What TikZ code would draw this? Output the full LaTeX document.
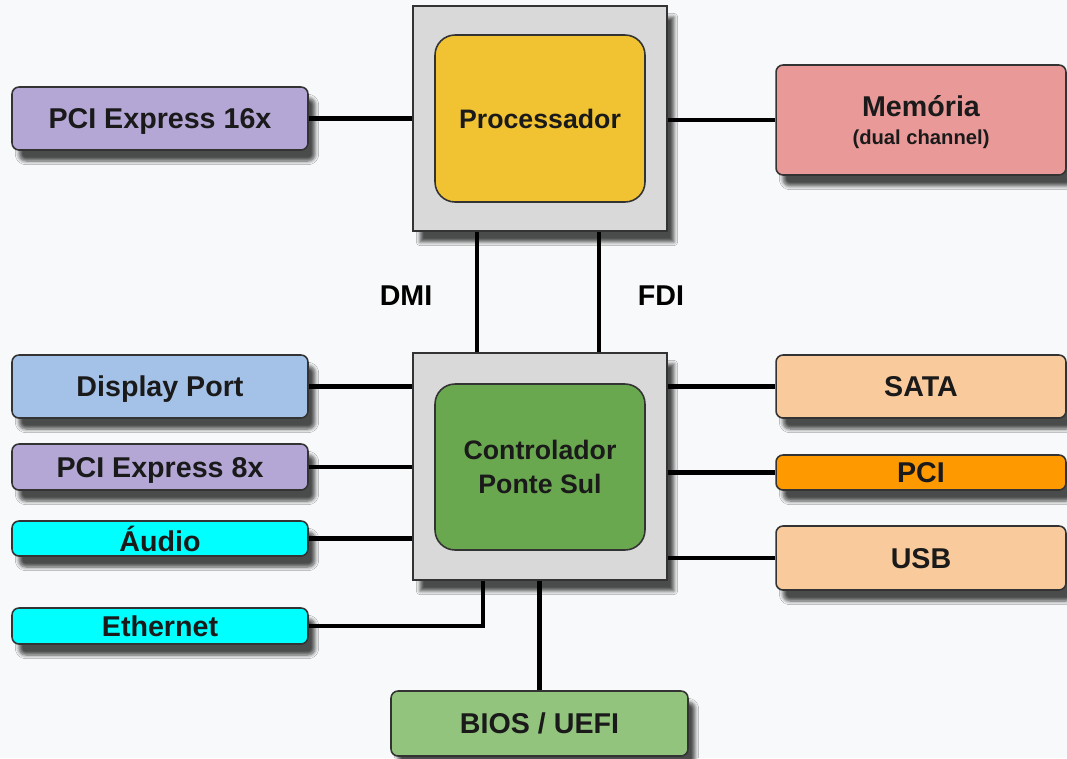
\documentclass[tikz,border=0pt]{standalone}
\usepackage{fontspec}
\setmainfont{Liberation Sans}
\usepackage{tikz}
\usetikzlibrary{shadows.blur}
\definecolor{bgcolor}{HTML}{F8F9FA}
\definecolor{edgecolor}{HTML}{333333}
\definecolor{chipgray}{HTML}{D9D9D9}
\definecolor{cpucolor}{HTML}{F1C232}
\definecolor{pchcolor}{HTML}{6AA84F}
\definecolor{pciecolor}{HTML}{B4A7D6}
\definecolor{memcolor}{HTML}{EA9999}
\definecolor{dpcolor}{HTML}{A4C2E8}
\definecolor{cyancolor}{HTML}{00FFFF}
\definecolor{peachcolor}{HTML}{F9CB9C}
\definecolor{pcicolor}{HTML}{FF9900}
\definecolor{bioscolor}{HTML}{93C47D}
\definecolor{textcolor}{HTML}{1A1A1A}

\begin{document}
\begin{tikzpicture}[x=0.02cm,y=-0.02cm,semithick]
  \tikzstyle{box}=[draw=edgecolor,line width=0.9pt,rounded corners=0.14cm,inner sep=0pt,
                   align=center,text=textcolor,text depth=0pt,
                   font=\bfseries\fontsize{16.3}{19}\selectfont,
                   blur shadow={shadow xshift=0.14cm,shadow yshift=-0.22cm,
                                shadow blur steps=6,shadow opacity=70}]
  \tikzstyle{chip}=[box,rounded corners=0pt,fill=chipgray,line width=1.1pt]
  \tikzstyle{core}=[draw=edgecolor,line width=0.9pt,rounded corners=0.4cm,inner sep=0pt,
                    align=center,text=textcolor,font=\bfseries\fontsize{15.2}{19}\selectfont]
  \tikzstyle{bus}=[line width=2.3pt,black]
  \tikzstyle{buslabel}=[text=black,font=\bfseries\fontsize{16.3}{19}\selectfont]

  \fill[bgcolor] (0,0) rectangle (1067,758);
  \useasboundingbox (0,0) rectangle (1067,758);

  % chips
  \node[chip, minimum width=5.08cm, minimum height=4.5cm]  (CPUBOX) at (540,118.5) {};
  \node[core, fill=cpucolor, minimum width=4.2cm, minimum height=3.34cm] (CPU) at (540,118.5) {Processador};
  \node[chip, minimum width=5.08cm, minimum height=4.54cm] (PCHBOX) at (540,466.5) {};
  \node[core, fill=pchcolor, minimum width=4.2cm, minimum height=3.32cm] (PCH) at (540,467) {Controlador\\Ponte Sul};

  % left side
  \node[box, fill=pciecolor, minimum width=5.92cm, minimum height=1.26cm] (PCIEX16) at (160,118.5) {PCI Express 16x};
  \node[box, fill=dpcolor,   minimum width=5.92cm, minimum height=1.26cm] (DP)      at (160,386.5) {Display Port};
  \node[box, fill=pciecolor, minimum width=5.92cm, minimum height=0.92cm] (PCIEX8)  at (160,467)   {PCI Express 8x};
  \node[box, fill=cyancolor, minimum width=5.92cm, minimum height=0.7cm]  (AUDIO)   at (160,538.5) {Áudio};
  \node[box, fill=cyancolor, minimum width=5.92cm, minimum height=0.72cm] (ETH)     at (160,626)   {Ethernet};

  % right side
  \node[box, fill=memcolor,   minimum width=5.8cm, minimum height=2.2cm]  (MEM)  at (921,120)
       {Memória\\[-3pt]{\fontsize{11.5}{13}\selectfont (dual channel)}};
  \node[box, fill=peachcolor, minimum width=5.8cm, minimum height=1.26cm] (SATA) at (921,386.5) {SATA};
  \node[box, fill=pcicolor,   minimum width=5.8cm, minimum height=0.7cm]  (PCI)  at (921,472.5) {PCI};
  \node[box, fill=peachcolor, minimum width=5.8cm, minimum height=1.28cm] (USB)  at (921,558)   {USB};

  % bottom
  \node[box, fill=bioscolor, minimum width=5.94cm, minimum height=1.3cm] (BIOS) at (539.5,723.5) {BIOS / UEFI};

  % bus labels
  \node[buslabel] (DMI) at (406,296) {DMI};
  \node[buslabel] (FDI) at (661,296) {FDI};

  % buses
  \draw[bus] (PCIEX16.east) -- (PCIEX16.east -| CPUBOX.west);
  \draw[bus] (MEM.west) -- (MEM.west -| CPUBOX.east);
  \draw[bus] ([xshift=-1.26cm]CPUBOX.south) -- ([xshift=-1.26cm]PCHBOX.north);
  \draw[bus] ([xshift=1.18cm]CPUBOX.south) -- ([xshift=1.18cm]PCHBOX.north);
  \draw[bus] (DP.east) -- (DP.east -| PCHBOX.west);
  \draw[bus] (PCIEX8.east) -- (PCIEX8.east -| PCHBOX.west);
  \draw[bus] (AUDIO.east) -- (AUDIO.east -| PCHBOX.west);
  \draw[bus] (ETH.east) -| ([xshift=-1.14cm]PCHBOX.south);
  \draw[bus] (SATA.west) -- (SATA.west -| PCHBOX.east);
  \draw[bus] (PCI.west) -- (PCI.west -| PCHBOX.east);
  \draw[bus] (USB.west) -- (USB.west -| PCHBOX.east);
  \draw[bus] (BIOS.north) -- (BIOS.north |- PCHBOX.south);
\end{tikzpicture}
\end{document}
